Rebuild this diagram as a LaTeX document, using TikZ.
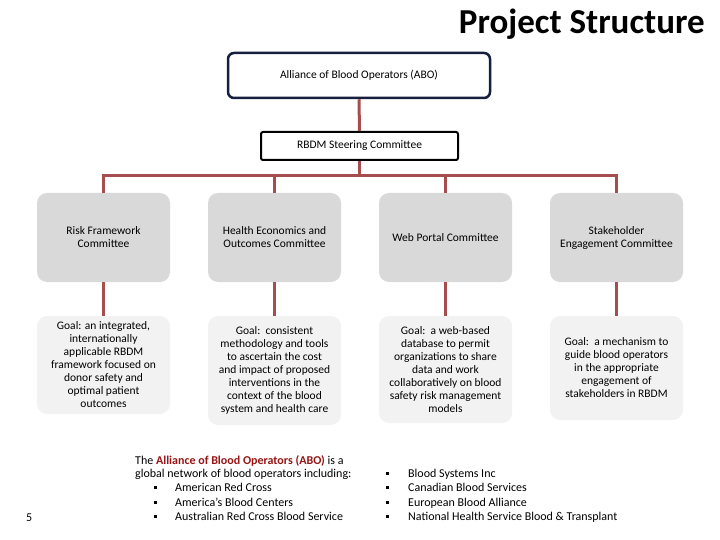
\documentclass[tikz,border=0pt]{standalone}
\usepackage{fontspec}
\setmainfont{Carlito}
\newcommand{\sqbul}{\raisebox{2.5pt}{\rule{3pt}{3pt}}}
\begin{document}
\begin{tikzpicture}[x=1pt,y=-1pt,
  conn/.style={draw={rgb,255:red,166;green,77;blue,77},line width=3pt},
  combox/.style={fill={rgb,255:red,217;green,217;blue,217},rounded corners=10pt,minimum width=133pt,minimum height=89pt,align=center,font=\fontsize{11.5}{13}\selectfont,inner sep=2pt},
  goalbox/.style={fill={rgb,255:red,242;green,242;blue,242},rounded corners=10pt,minimum width=133pt,align=center,font=\fontsize{11.5}{13}\selectfont,inner sep=2pt},
  txt/.style={anchor=base west,inner sep=0pt,font=\fontsize{12}{14}\selectfont}]
\useasboundingbox (0,0) rectangle (720,540);
\definecolor{navy}{RGB}{22,32,62}
\definecolor{abored}{RGB}{150,20,20}

\node[anchor=base east,inner sep=0pt,font=\fontsize{35}{40}\selectfont\bfseries] (title) at (705,34) {Project Structure};

\node[draw=navy,line width=2.5pt,rounded corners=6pt,minimum width=262pt,minimum height=45pt,font=\fontsize{11.5}{13}\selectfont] (abo) at (359,75.5) {Alliance of Blood Operators (ABO)};
\node[draw=black,line width=2pt,rounded corners=2pt,minimum width=197pt,minimum height=28pt,font=\fontsize{11.5}{13}\selectfont] (steer) at (359.5,146) {RBDM Steering Committee};

\node[combox] (c1) at (103.5,237.5) {Risk Framework\\Committee};
\node[combox] (c2) at (274.5,237.5) {Health Economics and\\Outcomes Committee};
\node[combox] (c3) at (445.5,237.5) {Web Portal Committee};
\node[combox] (c4) at (616.5,237.5) {Stakeholder\\Engagement Committee};

\node[goalbox,minimum height=98pt] (g1) at (103.5,365) {Goal: an integrated,\\internationally\\applicable RBDM\\framework focused on\\donor safety and\\optimal patient\\outcomes};
\node[goalbox,minimum height=109pt] (g2) at (274.5,370.5) {Goal:\ \ consistent\\methodology and tools\\to ascertain the cost\\and impact of proposed\\interventions in the\\context of the blood\\system and health care};
\node[goalbox,minimum height=107pt] (g3) at (445.5,369.5) {Goal:\ \ a web-based\\database to permit\\organizations to share\\data and work\\collaboratively on blood\\safety risk management\\models};
\node[goalbox,minimum height=104pt] (g4) at (616.5,368) {Goal:\ \ a mechanism to\\guide blood operators\\in the appropriate\\engagement of\\stakeholders in RBDM};

\coordinate (bus) at (0,175.5);
\draw[conn] (abo.south) -- (steer.north);
\draw[conn] (steer.south) -- (steer.south |- bus);
\draw[conn] (c1.north) -- (c1.north |- bus) -- (c4.north |- bus) -- (c4.north);
\draw[conn] (c2.north) -- (c2.north |- bus);
\draw[conn] (c3.north) -- (c3.north |- bus);
\draw[conn] (c1.south) -- (g1.north);
\draw[conn] (c2.south) -- (g2.north);
\draw[conn] (c3.south) -- (g3.north);
\draw[conn] (c4.south) -- (g4.north);

\node[txt] (l1) at (135,464) {The \textcolor{abored}{\bfseries Alliance of Blood Operators (ABO)} is a};
\node[txt] (l2) at (135,477.5) {global network of blood operators including:};
\node[txt] (b1) at (154,491.5) {\sqbul};
\node[txt] (t1) at (175,491.5) {American Red Cross};
\node[txt] (b2) at (154,506) {\sqbul};
\node[txt] (t2) at (175,506) {America's Blood Centers};
\node[txt] (b3) at (154,520.5) {\sqbul};
\node[txt] (t3) at (175,520.5) {Australian Red Cross Blood Service};
\node[txt] (pg) at (26,521) {5};

\node[txt] (b4) at (386,477.5) {\sqbul};
\node[txt] (t4) at (408,477.5) {Blood Systems Inc};
\node[txt] (b5) at (386,491.5) {\sqbul};
\node[txt] (t5) at (408,491.5) {Canadian Blood Services};
\node[txt] (b6) at (386,506) {\sqbul};
\node[txt] (t6) at (408,506) {European Blood Alliance};
\node[txt] (b7) at (386,520.5) {\sqbul};
\node[txt] (t7) at (408,520.5) {National Health Service Blood \& Transplant};
\end{tikzpicture}
\end{document}
